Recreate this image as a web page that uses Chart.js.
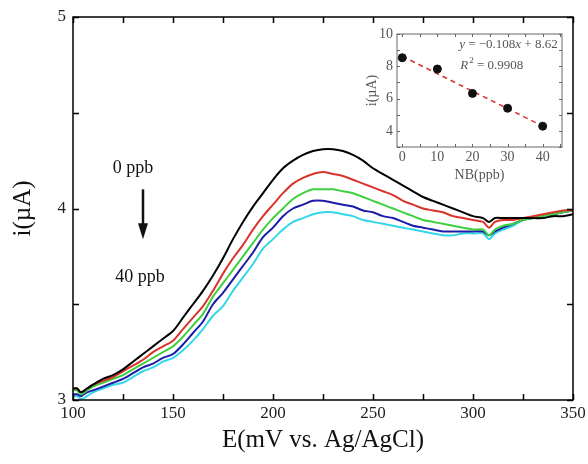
<!DOCTYPE html>
<html>
<head>
<meta charset="utf-8">
<script src="https://cdn.jsdelivr.net/npm/chart.js@4"></script>
<style>
  html, body { margin: 0; padding: 0; background: #fff; }
  #wrap { position: relative; width: 588px; height: 464px; }
  #mainChart { position: absolute; left: 0; top: 0; }
  #insetChart { position: absolute; left: 360px; top: 22px; }
</style>
</head>
<body>
<div id="wrap">
  <canvas id="mainChart" width="588" height="464"></canvas>
  <canvas id="insetChart" width="215" height="175"></canvas>
</div>
<script>
// Main voltammograms: potential (mV) and current (uA) for each NB concentration
const potential = [100, 102, 104, 107, 110, 115, 120, 125, 130, 135, 140, 145, 150, 155, 160, 165, 170, 175, 180, 185,
  190, 195, 200, 205, 210, 215, 220, 225, 230, 235, 240, 245, 250, 255, 260, 265, 270, 275, 280, 285,
  290, 295, 300, 305, 308, 311, 315, 320, 325, 330, 335, 340, 345, 350];

const i0ppb = [3.06, 3.06, 3.04, 3.06, 3.08, 3.11, 3.13, 3.16, 3.20, 3.24, 3.28, 3.32, 3.36, 3.43, 3.50, 3.57, 3.65, 3.74, 3.84, 3.93,
  4.01, 4.08, 4.15, 4.21, 4.25, 4.28, 4.30, 4.31, 4.31, 4.30, 4.28, 4.25, 4.21, 4.18, 4.15, 4.12, 4.09, 4.06, 4.04, 4.02,
  4.00, 3.98, 3.96, 3.95, 3.93, 3.95, 3.95, 3.95, 3.95, 3.95, 3.95, 3.96, 3.96, 3.97];

const i10ppb = [3.06, 3.06, 3.04, 3.06, 3.08, 3.10, 3.12, 3.15, 3.18, 3.21, 3.25, 3.28, 3.31, 3.37, 3.43, 3.49, 3.57, 3.66, 3.74, 3.81,
  3.89, 3.96, 4.02, 4.08, 4.13, 4.16, 4.18, 4.19, 4.18, 4.17, 4.15, 4.13, 4.11, 4.09, 4.07, 4.04, 4.02, 4.00, 3.99, 3.98,
  3.96, 3.95, 3.94, 3.93, 3.90, 3.93, 3.94, 3.94, 3.95, 3.96, 3.97, 3.98, 3.99, 3.99];

const i20ppb = [3.05, 3.05, 3.03, 3.05, 3.07, 3.09, 3.11, 3.13, 3.16, 3.19, 3.22, 3.25, 3.28, 3.33, 3.39, 3.45, 3.54, 3.61, 3.68, 3.75,
  3.82, 3.89, 3.95, 4.00, 4.05, 4.08, 4.10, 4.10, 4.10, 4.09, 4.08, 4.06, 4.04, 4.02, 4.00, 3.98, 3.96, 3.94, 3.93, 3.92,
  3.91, 3.90, 3.89, 3.89, 3.86, 3.89, 3.91, 3.92, 3.94, 3.95, 3.96, 3.97, 3.98, 3.99];

const i30ppb = [3.03, 3.03, 3.02, 3.04, 3.05, 3.07, 3.09, 3.11, 3.14, 3.17, 3.19, 3.22, 3.24, 3.29, 3.35, 3.41, 3.50, 3.56, 3.63, 3.70,
  3.77, 3.85, 3.90, 3.96, 4.00, 4.02, 4.04, 4.04, 4.03, 4.02, 4.01, 3.99, 3.98, 3.96, 3.95, 3.93, 3.91, 3.90, 3.89, 3.88,
  3.88, 3.88, 3.88, 3.88, 3.86, 3.88, 3.90, 3.92, 3.94, 3.95, 3.96, 3.97, 3.98, 3.99];

const i40ppb = [3.02, 3.02, 3.005, 3.02, 3.04, 3.06, 3.08, 3.09, 3.12, 3.15, 3.17, 3.20, 3.22, 3.26, 3.31, 3.37, 3.44, 3.49, 3.57, 3.64,
  3.71, 3.79, 3.84, 3.89, 3.93, 3.95, 3.97, 3.98, 3.98, 3.97, 3.96, 3.94, 3.93, 3.92, 3.91, 3.90, 3.89, 3.88, 3.87, 3.86,
  3.86, 3.87, 3.87, 3.87, 3.84, 3.87, 3.89, 3.91, 3.94, 3.95, 3.96, 3.97, 3.98, 3.99];

const mainXTicks = [100, 150, 200, 250, 300, 350];
const mainYTicks = [3, 4, 5];

// Inset: calibration points and the fitted line
const nbConc = [0, 10, 20, 30, 40];
const peakCurrent = [8.53, 7.83, 6.32, 5.40, 4.29];
const fitX = [0, 40];
const fitY = [8.62, 4.30];
const insetXTicks = [0, 10, 20, 30, 40];
const insetYTicks = [4, 6, 8, 10];

const serif = '"Liberation Serif", "Times New Roman", serif';

const curves = [
  { label: '0 ppb', values: i0ppb, color: '#000000' },
  { label: '10 ppb', values: i10ppb, color: '#d9342b' },
  { label: '20 ppb', values: i20ppb, color: '#3fcf3f' },
  { label: '30 ppb', values: i30ppb, color: '#1c1ca8' },
  { label: '40 ppb', values: i40ppb, color: '#35d6e6' }
];

// box around the plot with inward major and minor ticks on every side
function frameTicks(id, xMinor, yMinor, len, width, color) {
  return {
    id: id,
    afterDatasetsDraw(chart) {
      const { ctx, chartArea: a, scales: { x, y } } = chart;
      ctx.save();
      ctx.strokeStyle = color;
      ctx.lineWidth = width;
      ctx.beginPath();
      for (let v = Math.ceil(x.min / xMinor) * xMinor; v <= x.max + 1e-9; v += xMinor) {
        const px = Math.round(x.getPixelForValue(v)) + 0.5;
        ctx.moveTo(px, a.bottom); ctx.lineTo(px, a.bottom - len);
        ctx.moveTo(px, a.top); ctx.lineTo(px, a.top + len);
      }
      for (let v = Math.ceil(y.min / yMinor) * yMinor; v <= y.max + 1e-9; v += yMinor) {
        const py = Math.round(y.getPixelForValue(v)) + 0.5;
        ctx.moveTo(a.left, py); ctx.lineTo(a.left + len, py);
        ctx.moveTo(a.right, py); ctx.lineTo(a.right - len, py);
      }
      ctx.stroke();
      ctx.strokeRect(a.left, a.top, a.right - a.left, a.bottom - a.top);
      ctx.restore();
    }
  };
}

// "0 ppb -> 40 ppb" arrow note on the main plot
const arrowNote = {
  id: 'arrowNote',
  afterDatasetsDraw(chart) {
    const { ctx, scales: { x, y } } = chart;
    ctx.save();
    ctx.fillStyle = '#111';
    ctx.font = '18px ' + serif;
    ctx.textAlign = 'center';
    ctx.textBaseline = 'middle';
    ctx.fillText('0 ppb', x.getPixelForValue(130), y.getPixelForValue(4.21));
    ctx.fillText('40 ppb', x.getPixelForValue(133.5), y.getPixelForValue(3.64));
    const ax = x.getPixelForValue(135);
    const y1 = y.getPixelForValue(4.10);
    const y2 = y.getPixelForValue(3.84);
    ctx.strokeStyle = '#111';
    ctx.lineWidth = 2.5;
    ctx.beginPath();
    ctx.moveTo(ax, y1); ctx.lineTo(ax, y2 - 12);
    ctx.stroke();
    ctx.beginPath();
    ctx.moveTo(ax - 5, y2 - 16); ctx.lineTo(ax + 5, y2 - 16); ctx.lineTo(ax, y2);
    ctx.closePath();
    ctx.fill();
    ctx.restore();
  }
};

new Chart(document.getElementById('mainChart'), {
  type: 'line',
  data: {
    datasets: curves.map(c => ({
      label: c.label,
      data: potential.map((p, k) => ({ x: p, y: c.values[k] })),
      borderColor: c.color,
      borderWidth: 2,
      pointRadius: 0,
      tension: 0.3,
      fill: false
    }))
  },
  options: {
    responsive: false,
    animation: false,
    layout: { padding: { left: 0, right: 15, top: 17, bottom: 0 } },
    plugins: { legend: { display: false }, tooltip: { enabled: false } },
    scales: {
      x: {
        type: 'linear',
        min: 100,
        max: 350,
        afterBuildTicks: s => { s.ticks = mainXTicks.map(v => ({ value: v })); },
        afterFit: s => { s.height = 64; s.paddingLeft = 0; s.paddingRight = 0; },
        grid: { display: false, drawTicks: false },
        border: { display: false },
        ticks: { color: '#222', font: { family: serif, size: 17 }, padding: 3, maxRotation: 0 },
        title: { display: true, text: 'E(mV vs. Ag/AgCl)', color: '#111', font: { family: serif, size: 25 }, padding: { bottom: 9 } }
      },
      y: {
        min: 3,
        max: 5,
        afterBuildTicks: s => { s.ticks = mainYTicks.map(v => ({ value: v })); },
        afterFit: s => { s.width = 73; s.paddingTop = 0; s.paddingBottom = 0; },
        grid: { display: false, drawTicks: false },
        border: { display: false },
        ticks: { color: '#222', font: { family: serif, size: 17 }, padding: 7 },
        title: { display: true, text: 'i(\u00b5A)', color: '#111', font: { family: serif, size: 25 }, padding: { top: 8 } }
      }
    }
  },
  plugins: [frameTicks('mainFrame', 25, 0.5, 6, 1.5, '#000'), arrowNote]
});

// fit equation text in the inset
const fitText = {
  id: 'fitText',
  afterDatasetsDraw(chart) {
    const { ctx, scales: { x, y } } = chart;
    ctx.save();
    ctx.fillStyle = '#555';
    ctx.textBaseline = 'middle';
    const italic = 'italic 13px ' + serif;
    const plain = '13px ' + serif;
    let px = x.getPixelForValue(16.2);
    let py = y.getPixelForValue(9.32);
    const pieces = [[italic, 'y'], [plain, ' = \u22120.108'], [italic, 'x'], [plain, ' + 8.62']];
    pieces.forEach(([f, t]) => { ctx.font = f; ctx.fillText(t, px, py); px += ctx.measureText(t).width; });
    px = x.getPixelForValue(16.5);
    py = y.getPixelForValue(8.07);
    ctx.font = italic;
    ctx.fillText('R', px, py);
    px += ctx.measureText('R').width + 1;
    ctx.font = '9px ' + serif;
    ctx.fillText('2', px, py - 5);
    px += ctx.measureText('2').width;
    ctx.font = plain;
    ctx.fillText(' = 0.9908', px, py);
    ctx.restore();
  }
};

// white plot background for the inset
const insetBg = {
  id: 'insetBg',
  beforeDraw(chart) {
    const { ctx, chartArea: a } = chart;
    ctx.save();
    ctx.fillStyle = '#fff';
    ctx.fillRect(a.left, a.top, a.right - a.left, a.bottom - a.top);
    ctx.restore();
  }
};

new Chart(document.getElementById('insetChart'), {
  type: 'scatter',
  data: {
    datasets: [
      {
        label: 'points',
        data: nbConc.map((c, k) => ({ x: c, y: peakCurrent[k] })),
        backgroundColor: '#111',
        borderColor: '#111',
        pointRadius: 4
      },
      {
        label: 'fit',
        type: 'line',
        data: fitX.map((c, k) => ({ x: c, y: fitY[k] })),
        borderColor: '#d9342b',
        borderWidth: 1.5,
        borderDash: [5, 4],
        pointRadius: 0
      }
    ]
  },
  options: {
    responsive: false,
    animation: false,
    layout: { padding: { left: 0, right: 13, top: 12, bottom: 0 } },
    plugins: { legend: { display: false }, tooltip: { enabled: false } },
    scales: {
      x: {
        type: 'linear',
        min: -1.5,
        max: 45.5,
        afterBuildTicks: s => { s.ticks = insetXTicks.map(v => ({ value: v })); },
        afterFit: s => { s.height = 50; s.paddingLeft = 0; s.paddingRight = 0; },
        grid: { display: false, drawTicks: false },
        border: { display: false },
        ticks: { color: '#555', font: { family: serif, size: 14 }, padding: 2, maxRotation: 0 },
        title: { display: true, text: 'NB(ppb)', color: '#555', font: { family: serif, size: 14 }, padding: { bottom: 13 } }
      },
      y: {
        min: 3,
        max: 10,
        afterBuildTicks: s => { s.ticks = insetYTicks.map(v => ({ value: v })); },
        afterFit: s => { s.width = 37; s.paddingTop = 0; s.paddingBottom = 0; },
        grid: { display: false, drawTicks: false },
        border: { display: false },
        ticks: { color: '#555', font: { family: serif, size: 14 }, padding: 4 },
        title: { display: true, text: 'i(\u00b5A)', color: '#555', font: { family: serif, size: 14 }, padding: { top: 4 } }
      }
    }
  },
  plugins: [insetBg, frameTicks('insetFrame', 5, 1, 3, 1, '#666'), fitText]
});
</script>
</body>
</html>
